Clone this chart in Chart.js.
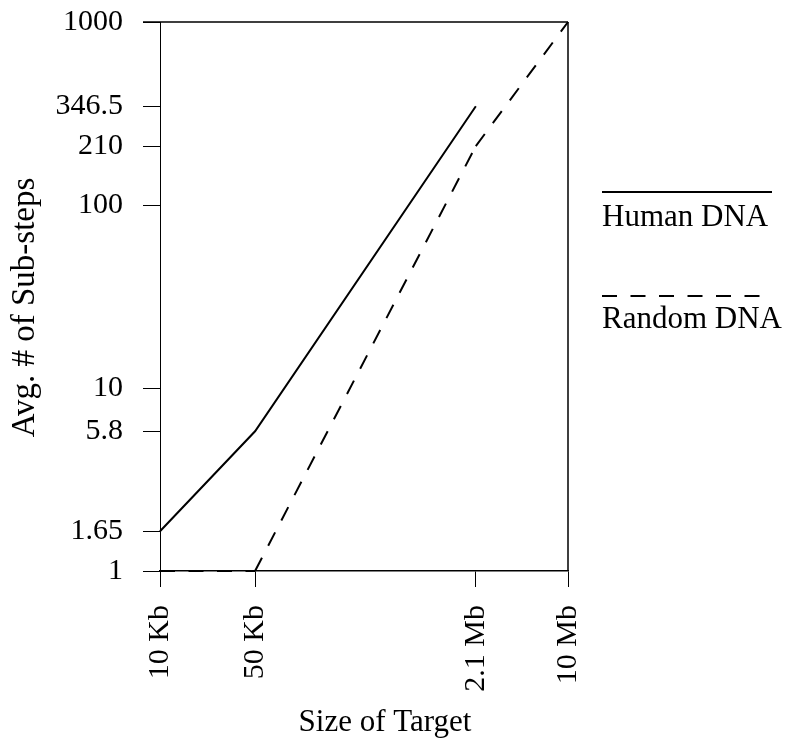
<!DOCTYPE html>
<html>
<head>
<meta charset="utf-8">
<script src="https://cdn.jsdelivr.net/npm/chart.js@4/dist/chart.umd.min.js"></script>
<style>
  html, body { margin: 0; padding: 0; background: #ffffff; }
  #wrap { width: 785px; height: 745px; position: relative; }
</style>
</head>
<body>
<div id="wrap"><canvas id="c" width="785" height="745"></canvas></div>
<script>
// ---- data ----
const xTickValues = [10000, 50000, 2100000, 10000000];
const xTickLabels = ['10 Kb', '50 Kb', '2.1 Mb', '10 Mb'];
const yTickValues = [1, 1.65, 5.8, 10, 100, 210, 346.5, 1000];
const yTickLabels = ['1', '1.65', '5.8', '10', '100', '210', '346.5', '1000'];

const humanX = [10000, 50000, 2100000];
const humanY = [1.65, 5.8, 346.5];
const randomX = [10000, 50000, 2100000, 10000000];
const randomY = [1, 1, 210, 1000];

const seriesNames = ['Human DNA', 'Random DNA'];
const xTitle = 'Size of Target';
const yTitle = 'Avg. # of Sub-steps';

const FONT = 'Liberation Serif, Times New Roman, serif';
const DASH = [15, 13.5];

function toPoints(xs, ys) { return xs.map((x, i) => ({ x: x, y: ys[i] })); }

const frameAndLegend = {
  id: 'frameAndLegend',
  afterDraw(chart) {
    const ctx = chart.ctx;
    const a = chart.chartArea;
    ctx.save();
    // top and right frame lines
    ctx.strokeStyle = '#000';
    ctx.lineWidth = 1.5;
    ctx.setLineDash([]);
    ctx.beginPath();
    ctx.moveTo(a.left - 17, a.top);
    ctx.lineTo(a.right, a.top);
    ctx.moveTo(a.right, a.top);
    ctx.lineTo(a.right, a.bottom);
    ctx.stroke();

    // legend
    const lx = 602;
    const items = [
      { y: 192, ty: 226, len: 170 },
      { y: 296, ty: 328, len: 158 }
    ];
    chart.data.datasets.forEach((ds, i) => {
      const it = items[i];
      ctx.strokeStyle = ds.borderColor;
      ctx.lineWidth = ds.borderWidth;
      ctx.setLineDash(ds.borderDash || []);
      ctx.lineDashOffset = 0;
      ctx.beginPath();
      ctx.moveTo(lx, it.y);
      ctx.lineTo(lx + it.len, it.y);
      ctx.stroke();
      ctx.setLineDash([]);
      ctx.fillStyle = '#000';
      ctx.font = '31px ' + FONT;
      ctx.textAlign = 'left';
      ctx.textBaseline = 'alphabetic';
      ctx.fillText(ds.label, lx, it.ty);
    });

    ctx.fillStyle = '#000';
    // x axis title
    ctx.font = '31px ' + FONT;
    ctx.textAlign = 'center';
    ctx.textBaseline = 'alphabetic';
    ctx.fillText(xTitle, 385, 731);

    // y axis title
    ctx.save();
    ctx.translate(34, 307.5);
    ctx.rotate(-Math.PI / 2);
    ctx.font = '33px ' + FONT;
    ctx.textAlign = 'center';
    ctx.textBaseline = 'alphabetic';
    ctx.fillText(yTitle, 0, 0);
    ctx.restore();
    ctx.restore();
  }
};

new Chart(document.getElementById('c'), {
  type: 'line',
  data: {
    datasets: [
      {
        label: seriesNames[0],
        data: toPoints(humanX, humanY),
        borderColor: '#000',
        borderWidth: 2,
        pointRadius: 0,
        tension: 0,
        fill: false,
        clip: false
      },
      {
        label: seriesNames[1],
        data: toPoints(randomX, randomY),
        borderColor: '#000',
        borderWidth: 2,
        borderDash: DASH,
        pointRadius: 0,
        tension: 0,
        fill: false,
        clip: false,
        // restart the dash pattern at every vertex (each segment stroked separately)
        segment: {
          borderDashOffset: ctx => ctx.p0DataIndex * 0.001
        }
      }
    ]
  },
  options: {
    responsive: false,
    animation: false,
    devicePixelRatio: 1,
    layout: { padding: { left: 0, top: 22, right: 217, bottom: 0 } },
    plugins: {
      legend: { display: false },
      tooltip: { enabled: false }
    },
    scales: {
      x: {
        type: 'logarithmic',
        position: 'bottom',
        min: 10000,
        max: 10000000,
        afterBuildTicks(scale) {
          scale.ticks = xTickValues.map(v => ({ value: v }));
        },
        afterFit(scale) {
          scale.height = 745 - 571;
          scale.paddingLeft = 0;
          scale.paddingRight = 0;
        },
        ticks: {
          autoSkip: false,
          minRotation: 90,
          maxRotation: 90,
          padding: 18,
          color: '#000',
          font: { family: FONT, size: 30 },
          callback(value) {
            const i = xTickValues.indexOf(value);
            return i >= 0 ? xTickLabels[i] : '';
          }
        },
        grid: {
          display: true,
          drawOnChartArea: false,
          drawTicks: true,
          tickLength: 16,
          color: '#000',
          lineWidth: 1
        },
        border: { display: true, color: '#000', width: 1.5 },
        title: { display: false }
      },
      y: {
        type: 'logarithmic',
        position: 'left',
        min: 1,
        max: 1000,
        afterBuildTicks(scale) {
          scale.ticks = yTickValues.map(v => ({ value: v }));
        },
        afterFit(scale) {
          scale.width = 160;
          scale.paddingTop = 0;
          scale.paddingBottom = 0;
        },
        ticks: {
          autoSkip: false,
          padding: 20,
          color: '#000',
          font: { family: FONT, size: 30 },
          callback(value) {
            const i = yTickValues.indexOf(value);
            return i >= 0 ? yTickLabels[i] : '';
          }
        },
        grid: {
          display: true,
          drawOnChartArea: false,
          drawTicks: true,
          tickLength: 17,
          color: '#000',
          lineWidth: 1
        },
        border: { display: true, color: '#000', width: 1 },
        title: { display: false }
      }
    }
  },
  plugins: [frameAndLegend]
});
</script>
</body>
</html>
